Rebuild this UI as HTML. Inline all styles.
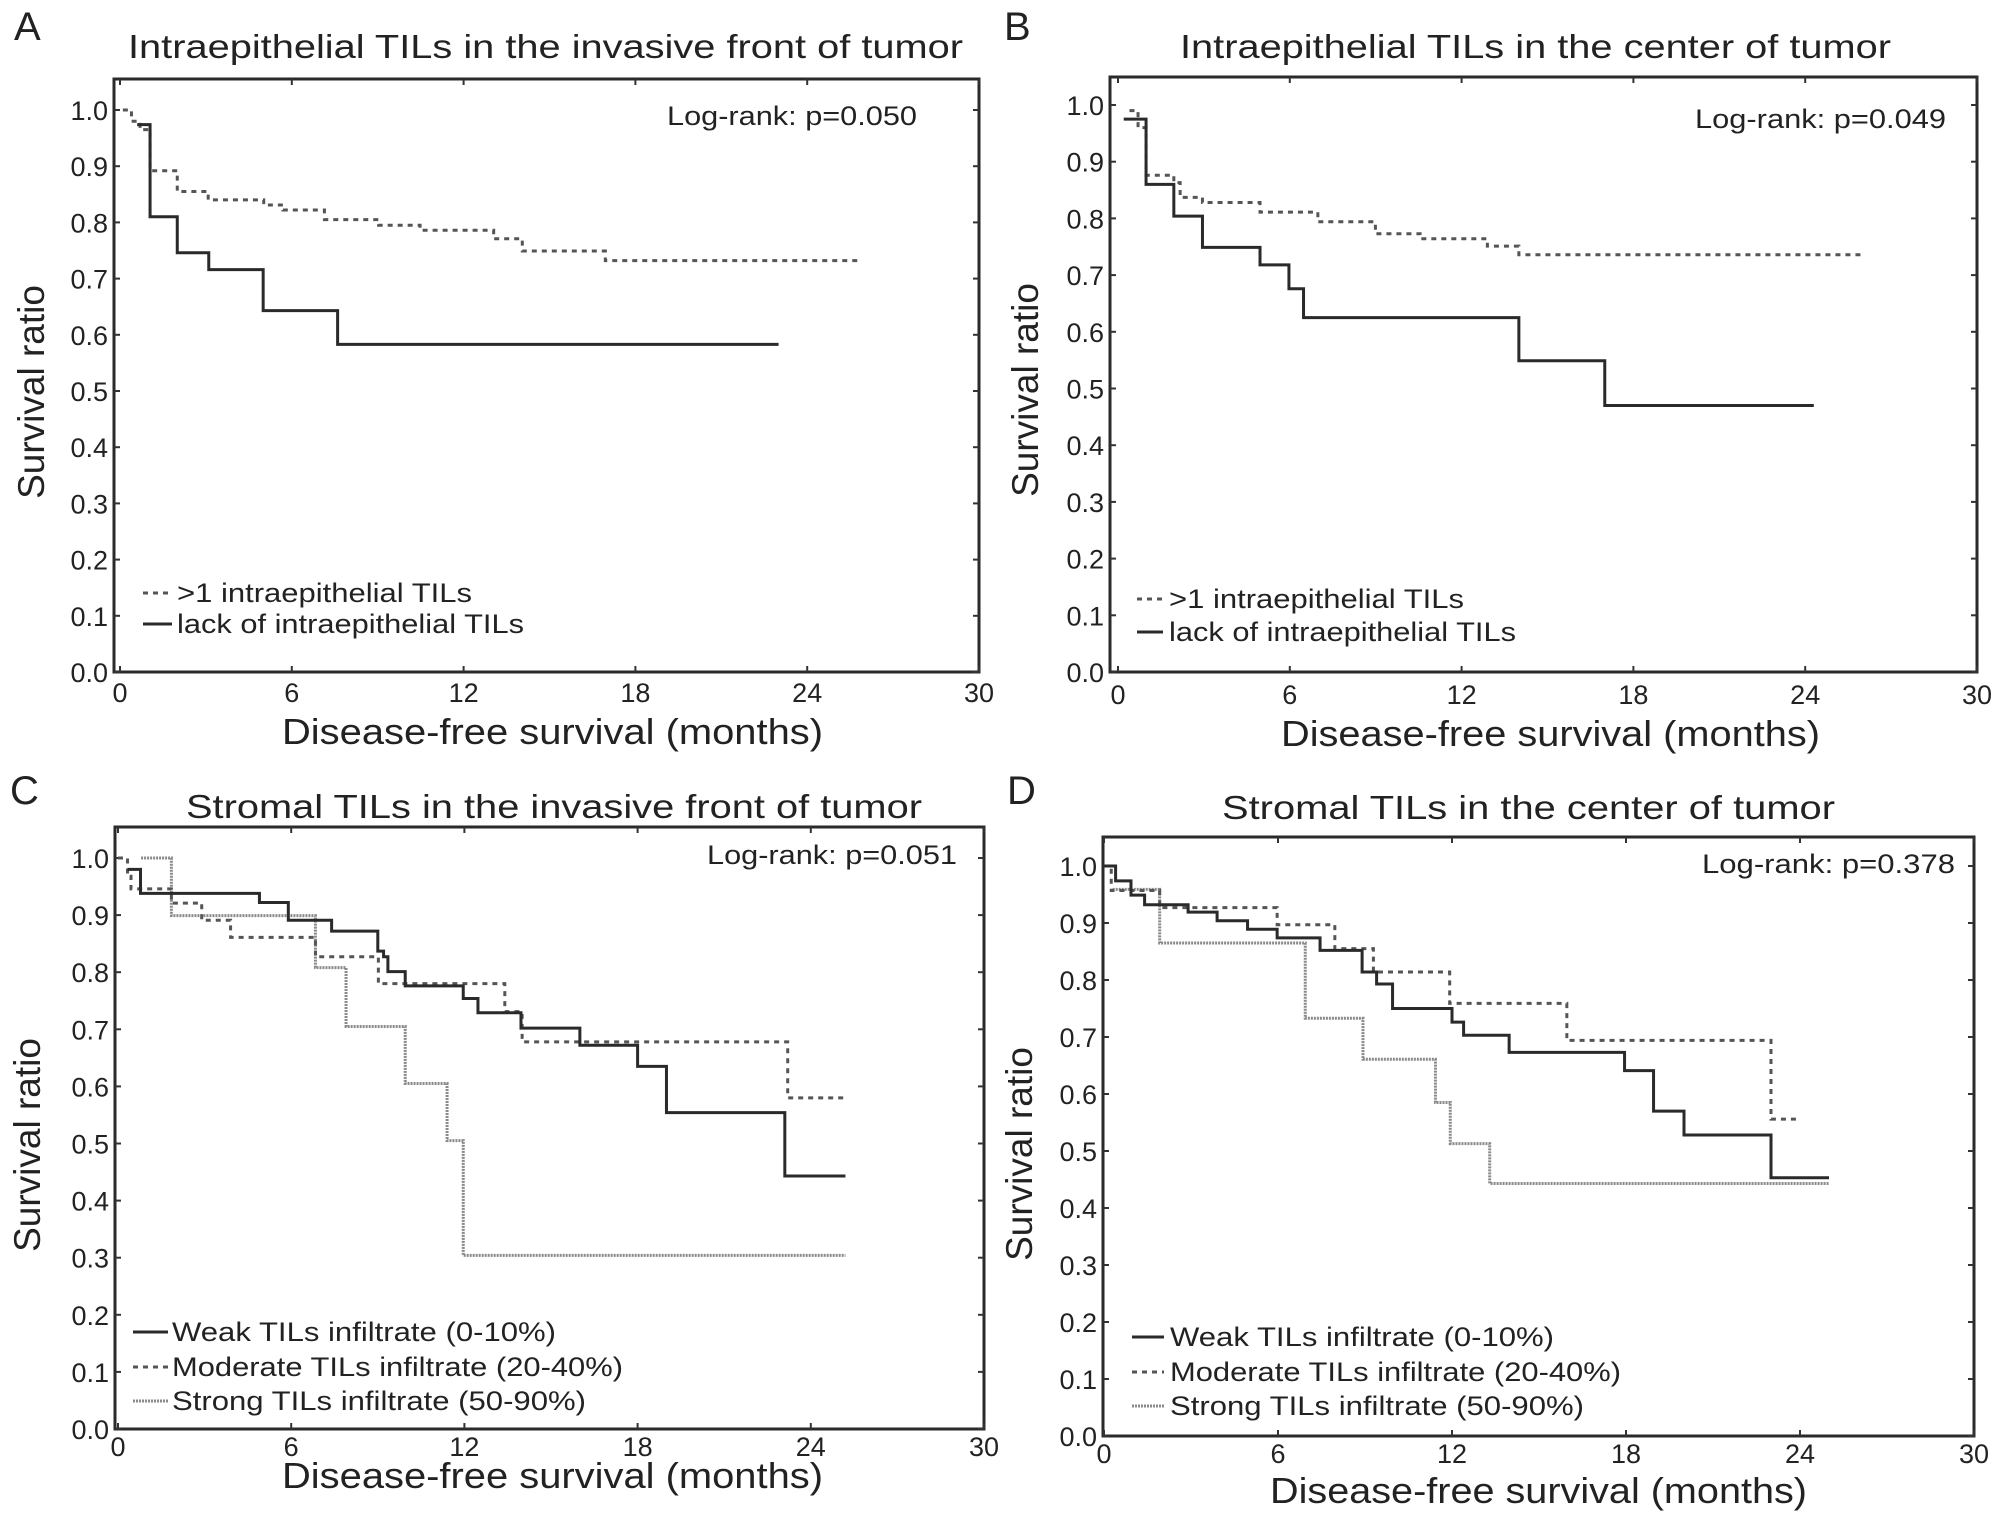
<!DOCTYPE html>
<html><head><meta charset="utf-8"><style>
html,body{margin:0;padding:0;background:#fff}
svg{display:block}
text{font-family:"Liberation Sans",Arial,sans-serif;fill:#222}
</style></head><body>
<svg id="fig" width="2008" height="1528" viewBox="0 0 2008 1528" xmlns="http://www.w3.org/2000/svg"></svg>
<script>
// ---- Panel A data ----
const aSolidT = [0.6, 1.05, 2.0, 3.1, 5.0, 7.6];
const aSolidS = [0.974, 0.81, 0.746, 0.716, 0.643, 0.583];
const aSolidEnd = 23.0;
const aDotT = [0.1, 0.4, 0.7, 1.05, 2.0, 3.08, 5.02, 5.69, 7.14, 9.03, 10.48, 13.05, 14.05, 16.95];
const aDotS = [1.0, 0.98, 0.965, 0.892, 0.855, 0.84, 0.831, 0.822, 0.805, 0.795, 0.786, 0.771, 0.749, 0.732];
const aDotEnd = 25.9;
// ---- Panel B data ----
const bSolidT = [0.2, 0.98, 1.95, 2.95, 4.96, 5.97, 6.48, 14.0, 17.0];
const bSolidS = [0.975, 0.86, 0.804, 0.749, 0.718, 0.676, 0.625, 0.549, 0.47];
const bSolidEnd = 24.3;
const bDotT = [0.4, 0.7, 0.98, 1.95, 2.17, 2.95, 4.96, 6.98, 8.99, 10.55, 12.9, 14.0];
const bDotS = [0.99, 0.96, 0.876, 0.863, 0.837, 0.828, 0.811, 0.794, 0.773, 0.764, 0.751, 0.736];
const bDotEnd = 26.0;
// ---- Panel C data ----
const cWeakT = [0.33, 0.78, 4.9, 5.9, 7.4, 9.0, 9.2, 9.35, 9.95, 11.96, 12.47, 13.96, 16.0, 18.0, 19.0, 23.1];
const cWeakS = [0.98, 0.938, 0.922, 0.891, 0.872, 0.837, 0.827, 0.801, 0.776, 0.754, 0.729, 0.702, 0.672, 0.635, 0.554, 0.443];
const cWeakEnd = 25.2;
const cModT = [0.0, 0.33, 0.45, 1.85, 2.9, 3.9, 6.84, 9.02, 13.4, 14.0, 23.2];
const cModS = [1.0, 0.968, 0.946, 0.921, 0.891, 0.861, 0.827, 0.780, 0.731, 0.678, 0.580];
const cModEnd = 25.2;
const cStrT = [0.8, 1.85, 6.84, 7.9, 9.95, 11.4, 11.96];
const cStrS = [1.0, 0.899, 0.808, 0.705, 0.605, 0.505, 0.304];
const cStrEnd = 25.2;
// ---- Panel D data ----
const dWeakT = [0.0, 0.4, 0.93, 1.4, 2.9, 3.9, 4.95, 5.97, 7.45, 8.9, 9.4, 9.95, 12.0, 12.4, 13.97, 17.95, 18.95, 20.0, 23.0];
const dWeakS = [1.0, 0.974, 0.949, 0.932, 0.919, 0.904, 0.889, 0.874, 0.852, 0.814, 0.793, 0.750, 0.726, 0.703, 0.673, 0.641, 0.570, 0.528, 0.453];
const dWeakEnd = 25.0;
const dModT = [0.0, 0.25, 1.92, 5.97, 7.96, 9.29, 11.92, 15.96, 23.0];
const dModS = [1.0, 0.957, 0.927, 0.897, 0.855, 0.814, 0.759, 0.694, 0.556];
const dModEnd = 24.0;
const dStrT = [0.3, 1.92, 6.94, 8.93, 11.43, 11.94, 13.3];
const dStrS = [0.959, 0.865, 0.733, 0.661, 0.585, 0.513, 0.443];
const dStrEnd = 25.0;

const xTicks = [0, 6, 12, 18, 24, 30];
const yTicks = [0, 0.1, 0.2, 0.3, 0.4, 0.5, 0.6, 0.7, 0.8, 0.9, 1.0];

const NS = "http://www.w3.org/2000/svg";
const svg = document.getElementById('fig');
function mk(tag, attrs, parent) {
  const e = document.createElementNS(NS, tag);
  for (const k in attrs) e.setAttribute(k, attrs[k]);
  (parent || svg).appendChild(e);
  return e;
}
function txt(parent, x, y, s, size, anchor, len) {
  const t = mk('text', {x: x, y: y, 'font-size': size, 'text-anchor': anchor || 'start'}, parent);
  if (len) { t.setAttribute('textLength', len); t.setAttribute('lengthAdjust', 'spacingAndGlyphs'); }
  t.textContent = s;
  return t;
}
const STY = {
  solid: {stroke: '#2a2a2a', dash: null, w: 3},
  dot: {stroke: '#555', dash: '5,5', w: 3},
  gray: {stroke: '#8a8a8a', dash: '2,1', w: 3}
};
function stepPath(T, S, end, xs, ys) {
  let d = 'M' + xs(T[0]) + ' ' + ys(S[0]);
  for (let i = 1; i < T.length; i++) {
    d += ' H' + xs(T[i]) + ' V' + ys(S[i]);
  }
  d += ' H' + xs(end);
  return d;
}

const panels = [
  {id: 'a', letter: 'A', lx: 14, ly: 40, title: 'Intraepithelial TILs in the invasive front of tumor', tx: 128, ty: 58, tw: 835,
   box: [114, 79, 979, 672], x0: 120, x30: 979, y0: 672, y1: 110,
   lr: 'Log-rank: p=0.050', lrx: 667, lry: 125, lrw: 250,
   xTitleX: 282, xTitleY: 744, xTitleW: 541, xtY: 702, yTitleX: 44, yTitleY: 392,
   series: [[aDotT, aDotS, aDotEnd, 'dot', 'intraepithelial-high-curve'], [aSolidT, aSolidS, aSolidEnd, 'solid', 'intraepithelial-lack-curve']],
   legend: {lx1: 143, lx2: 172, tx: 177, ys: [602, 633], items: [['dot', '>1 intraepithelial TILs', 295], ['solid', 'lack of intraepithelial TILs', 347]]}},
  {id: 'b', letter: 'B', lx: 1004, ly: 40, title: 'Intraepithelial TILs in the center of tumor', tx: 1180, ty: 58, tw: 711,
   box: [1110, 77, 1977, 672], x0: 1118, x30: 1977, y0: 672, y1: 105,
   lr: 'Log-rank: p=0.049', lrx: 1695, lry: 128, lrw: 251,
   xTitleX: 1281, xTitleY: 746, xTitleW: 539, xtY: 704, yTitleX: 1038, yTitleY: 390,
   series: [[bDotT, bDotS, bDotEnd, 'dot', 'intraepithelial-high-curve'], [bSolidT, bSolidS, bSolidEnd, 'solid', 'intraepithelial-lack-curve']],
   legend: {lx1: 1137, lx2: 1163, tx: 1169, ys: [608, 641], items: [['dot', '>1 intraepithelial TILs', 295], ['solid', 'lack of intraepithelial TILs', 347]]}},
  {id: 'c', letter: 'C', lx: 10, ly: 804, title: 'Stromal TILs in the invasive front of tumor', tx: 186, ty: 818, tw: 736,
   box: [115, 827, 984, 1429], x0: 118, x30: 984, y0: 1429, y1: 858,
   lr: 'Log-rank: p=0.051', lrx: 707, lry: 864, lrw: 250,
   xTitleX: 282, xTitleY: 1488, xTitleW: 541, xtY: 1456, yTitleX: 40, yTitleY: 1145,
   series: [[cStrT, cStrS, cStrEnd, 'gray', 'strong-tils-curve'], [cModT, cModS, cModEnd, 'dot', 'moderate-tils-curve'], [cWeakT, cWeakS, cWeakEnd, 'solid', 'weak-tils-curve']],
   legend: {lx1: 133, lx2: 168, tx: 172, ys: [1341, 1376, 1410], items: [['solid', 'Weak TILs infiltrate (0-10%)', 384], ['dot', 'Moderate TILs infiltrate (20-40%)', 451], ['gray', 'Strong TILs infiltrate (50-90%)', 414]]}},
  {id: 'd', letter: 'D', lx: 1007, ly: 804, title: 'Stromal TILs in the center of tumor', tx: 1222, ty: 819, tw: 613,
   box: [1103, 837, 1974, 1436], x0: 1104, x30: 1974, y0: 1436, y1: 866,
   lr: 'Log-rank: p=0.378', lrx: 1702, lry: 873, lrw: 253,
   xTitleX: 1270, xTitleY: 1503, xTitleW: 537, xtY: 1463, yTitleX: 1032, yTitleY: 1154,
   series: [[dStrT, dStrS, dStrEnd, 'gray', 'strong-tils-curve'], [dModT, dModS, dModEnd, 'dot', 'moderate-tils-curve'], [dWeakT, dWeakS, dWeakEnd, 'solid', 'weak-tils-curve']],
   legend: {lx1: 1132, lx2: 1164, tx: 1170, ys: [1346, 1381, 1415], items: [['solid', 'Weak TILs infiltrate (0-10%)', 384], ['dot', 'Moderate TILs infiltrate (20-40%)', 451], ['gray', 'Strong TILs infiltrate (50-90%)', 414]]}}
];

panels.forEach(p => {
  const g = mk('g', {});
  
  
  const xs = v => p.x0 + (v / 30) * (p.x30 - p.x0);
  const ys = v => p.y0 - v * (p.y0 - p.y1);
  const [L, T, R, B] = p.box;

  const letter = txt(g, p.lx, p.ly, p.letter, 40);
  
  
  const title = txt(g, p.tx, p.ty, p.title, 33, 'start', p.tw);
  
  

  const frame = mk('rect', {x: L, y: T, width: R - L, height: B - T, fill: 'none', stroke: '#2a2a2a', 'stroke-width': 3}, g);
  
  

  xTicks.forEach(v => {
    const x = xs(v);
    mk('line', {x1: x, y1: T, x2: x, y2: T + 6, stroke: '#333', 'stroke-width': 2}, g);
    mk('line', {x1: x, y1: B, x2: x, y2: B - 6, stroke: '#333', 'stroke-width': 2}, g);
    const t = txt(g, x, p.xtY, String(v), 27, 'middle');
    
    
  });
  yTicks.forEach(v => {
    const y = ys(v);
    mk('line', {x1: L, y1: y, x2: L + 6, y2: y, stroke: '#333', 'stroke-width': 2}, g);
    mk('line', {x1: R, y1: y, x2: R - 6, y2: y, stroke: '#333', 'stroke-width': 2}, g);
    const t = txt(g, L - 6, y + 10, v.toFixed(1), 27, 'end');
    
    
  });

  const xt = txt(g, p.xTitleX, p.xTitleY, 'Disease-free survival (months)', 36, 'start', p.xTitleW);
  
  
  const yt = mk('text', {x: 0, y: 0, 'font-size': 37, 'text-anchor': 'middle', transform: 'translate(' + p.yTitleX + ',' + p.yTitleY + ') rotate(-90)'}, g);
  yt.textContent = 'Survival ratio';
  
  

  const lr = txt(g, p.lrx, p.lry, p.lr, 27, 'start', p.lrw);
  
  

  p.series.forEach(s => {
    const st = STY[s[3]];
    const path = mk('path', {d: stepPath(s[0], s[1], s[2], xs, ys), fill: 'none', stroke: st.stroke, 'stroke-width': st.w}, g);
    if (st.dash) path.setAttribute('stroke-dasharray', st.dash);
    
    
  });

  p.legend.items.forEach((it, i) => {
    const st = STY[it[0]];
    const y = p.legend.ys[i];
    const lg = mk('g', {}, g);
    
    
    const ln = mk('line', {x1: p.legend.lx1, y1: y - 9, x2: p.legend.lx2, y2: y - 9, stroke: st.stroke, 'stroke-width': st.w}, lg);
    if (st.dash) ln.setAttribute('stroke-dasharray', st.dash);
    txt(lg, p.legend.tx, y, it[1], 27, 'start', it[2]);
  });
});
</script>
</body></html>
